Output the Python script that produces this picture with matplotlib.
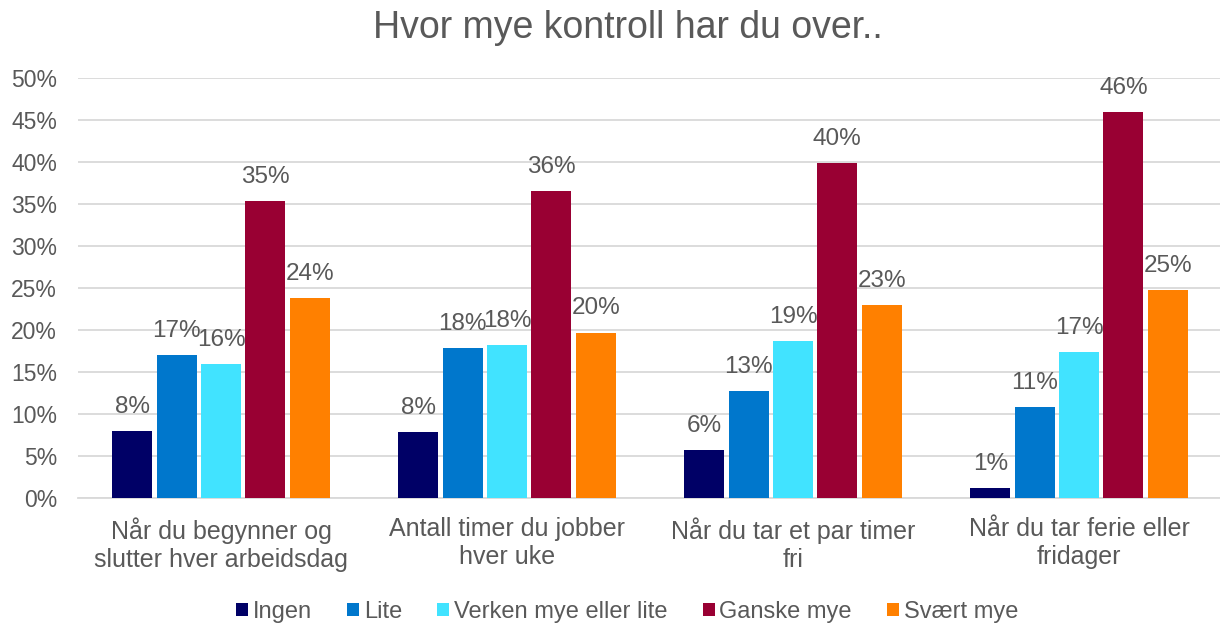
import matplotlib.pyplot as plt
import numpy as np
from matplotlib.ticker import PercentFormatter

plt.rcParams['font.family'] = ['Liberation Sans', 'DejaVu Sans']

categories = ['Når du begynner og\nslutter hver arbeidsdag',
              'Antall timer du jobber\nhver uke',
              'Når du tar et par timer\nfri',
              'Når du tar ferie eller\nfridager']
series = ['Ingen', 'Lite', 'Verken mye eller lite', 'Ganske mye', 'Svært mye']
ingen = [8.0, 7.8, 5.7, 1.2]
lite = [17.0, 17.8, 12.7, 10.8]
verken = [16.0, 18.2, 18.7, 17.4]
ganske = [35.4, 36.5, 39.9, 45.9]
svaert = [23.8, 19.7, 23.0, 24.8]
values = [ingen, lite, verken, ganske, svaert]
colors = ['#000066', '#0077CC', '#41E3FF', '#990033', '#FF8000']

text_col = '#595959'

fig = plt.figure(figsize=(12.2, 6.27), dpi=100)
ax = fig.add_axes([78 / 1220, 1 - 498 / 627, 1144 / 1220, 420 / 627])

x = np.arange(len(categories))
step = 0.155
width = 0.14
for i, (name, vals, col) in enumerate(zip(series, values, colors)):
    pos = x + (i - 2) * step
    ax.bar(pos, [v / 100 for v in vals], width, color=col, label=name, zorder=3)
    for p, v in zip(pos, vals):
        ax.annotate(f'{round(v):.0f}%', (p, v / 100), xytext=(0, 13),
                    textcoords='offset points', ha='center', va='baseline',
                    fontsize=17.5, color=text_col)

ax.set_xlim(-0.5, len(categories) - 0.5)
ax.set_ylim(0, 0.5)
ax.set_yticks(np.arange(0, 0.51, 0.05))
ax.yaxis.set_major_formatter(PercentFormatter(1.0, decimals=0))
ax.grid(axis='y', color='#D9D9D9', linewidth=1.3, zorder=0)
ax.set_xticks(x)
ax.set_xticklabels(categories, fontsize=18, color=text_col, linespacing=1.2)
ax.tick_params(axis='y', labelsize=16.5, labelcolor=text_col, length=0, pad=15)
ax.tick_params(axis='x', length=0, pad=14)
for s in ['top', 'right', 'left']:
    ax.spines[s].set_visible(False)
ax.spines['bottom'].set_color('#D9D9D9')
ax.spines['bottom'].set_linewidth(1.3)

fig.text(0.515, 0.955, 'Hvor mye kontroll har du over..', ha='center', va='center',
         fontsize=27, color=text_col)

leg = fig.legend(loc='center', bbox_to_anchor=(0.514, 0.024), ncol=5, frameon=False,
                 fontsize=17, handlelength=0.5, handleheight=0.5, handletextpad=0.2,
                 columnspacing=1.5)
for t in leg.get_texts():
    t.set_color(text_col)

fig.savefig('out.png', dpi=100)
